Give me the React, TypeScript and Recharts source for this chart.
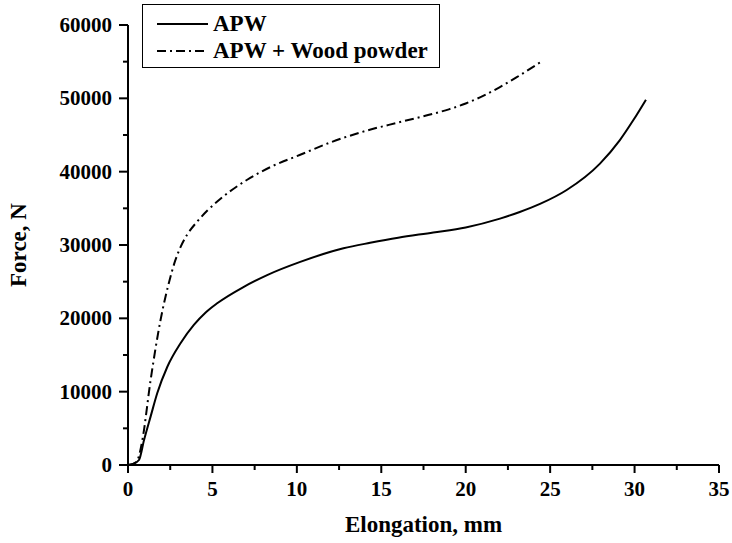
import { LineChart, Line, XAxis, YAxis, Legend, Label } from "recharts"

// APW, solid curve
const apwElong = [0, 0.3, 0.65, 0.95, 1.35, 1.73, 2.33, 3.11, 3.9, 4.6, 5.28, 6.86, 8.24, 10.2, 12.76, 14.34, 16, 18.08, 20, 22.03, 23.2, 24.4, 25.98, 27.95, 29.13, 29.92, 30.67]
const apwForce = [0, 150, 680, 3400, 6700, 9780, 13400, 16600, 19100, 20800, 22050, 24300, 25900, 27700, 29550, 30300, 31000, 31700, 32400, 33600, 34500, 35600, 37500, 41100, 44300, 47000, 49800]

// APW + Wood powder, dash-dot curve
const woodElong = [0, 0.35, 0.6, 0.85, 1.34, 1.93, 2.52, 2.8, 3.11, 3.5, 4.1, 4.7, 5.48, 7.06, 8.5, 10.2, 12, 14.14, 16, 18.08, 19, 20, 21, 22, 23, 24.4]
const woodForce = [0, 200, 900, 3400, 11600, 19800, 25700, 27900, 29700, 31400, 33200, 34700, 36300, 38900, 40700, 42300, 44000, 45600, 46700, 47900, 48500, 49300, 50300, 51500, 52850, 54900]

const xTicks = [0, 2.5, 5, 7.5, 10, 12.5, 15, 17.5, 20, 22.5, 25, 27.5, 30, 32.5, 35]
const yTicks = [0, 5000, 10000, 15000, 20000, 25000, 30000, 35000, 40000, 45000, 50000, 55000, 60000]

const apwData = apwElong.map((e, i) => ({ elong: e, force: apwForce[i] }))
const woodData = woodElong.map((e, i) => ({ elong: e, force: woodForce[i] }))

const font = "Liberation Serif"
const dashDot = "9 4 2 4"

function XTick(props: any) {
  const { x, y, payload } = props
  const major = payload.value % 5 === 0
  return (
    <g>
      <line x1={x} x2={x} y1={y} y2={y + (major ? 8 : 5)} stroke="#000" strokeWidth={2} />
      {major && (
        <text x={x} y={y + 31} textAnchor="middle" fontFamily={font} fontWeight="bold" fontSize={21} fill="#000">
          {payload.value}
        </text>
      )}
    </g>
  )
}

function YTick(props: any) {
  const { x, y, payload } = props
  const major = payload.value % 10000 === 0
  return (
    <g>
      <line x1={x} x2={x - (major ? 9 : 5)} y1={y} y2={y} stroke="#000" strokeWidth={2} />
      {major && (
        <text x={x - 16} y={y + 7} textAnchor="end" fontFamily={font} fontWeight="bold" fontSize={21} fill="#000">
          {payload.value}
        </text>
      )}
    </g>
  )
}

function LegendBox() {
  const row = (label: string, dash?: string) => (
    <div style={{ display: "flex", alignItems: "center", height: 27 }}>
      <svg width={56} height={10} style={{ marginLeft: 14 }}>
        <line x1={0} x2={51} y1={5} y2={5} stroke="#000" strokeWidth={2} strokeDasharray={dash} />
      </svg>
      <span style={{ fontFamily: font, fontWeight: "bold", fontSize: 23, lineHeight: "27px" }}>{label}</span>
    </div>
  )
  return (
    <div style={{ paddingTop: 5 }}>
      {row("APW")}
      {row("APW + Wood powder", dashDot)}
    </div>
  )
}

export default function App() {
  return (
    <div style={{ position: "absolute", left: 0, top: 0, background: "#fff" }}>
      <LineChart width={732} height={543} margin={{ top: 25, right: 13, bottom: 0, left: 0 }}>
        <XAxis
          dataKey="elong"
          type="number"
          domain={[0, 35]}
          ticks={xTicks}
          interval={0}
          tickLine={false}
          tickSize={0}
          tickMargin={0}
          tick={<XTick />}
          height={78}
          axisLine={{ stroke: "#000", strokeWidth: 2 }}
          allowDuplicatedCategory={false}
        >
          <Label
            content={({ viewBox }: any) => (
              <text
                x={viewBox.x + viewBox.width / 2}
                y={532}
                textAnchor="middle"
                fontFamily={font}
                fontWeight="bold"
                fontSize={23}
                fill="#000"
              >
                Elongation, mm
              </text>
            )}
          />
        </XAxis>
        <YAxis
          dataKey="force"
          type="number"
          domain={[0, 60000]}
          ticks={yTicks}
          interval={0}
          tickLine={false}
          tickSize={0}
          tickMargin={0}
          tick={<YTick />}
          width={128}
          axisLine={{ stroke: "#000", strokeWidth: 2 }}
        >
          <Label
            content={({ viewBox }: any) => {
              const cy = viewBox.y + viewBox.height / 2
              return (
                <text
                  x={26}
                  y={cy}
                  transform={`rotate(-90, 26, ${cy})`}
                  textAnchor="middle"
                  fontFamily={font}
                  fontWeight="bold"
                  fontSize={23}
                  fill="#000"
                >
                  Force, N
                </text>
              )
            }}
          />
        </YAxis>
        <Legend
          layout="vertical"
          align="center"
          verticalAlign="middle"
          content={<LegendBox />}
          wrapperStyle={{
            position: "absolute",
            left: 142,
            top: 4,
            width: 298,
            height: 64,
            border: "1.5px solid #000",
            boxSizing: "border-box",
            background: "#fff",
          }}
        />
        <Line
          data={apwData}
          dataKey="force"
          name="APW"
          type="monotone"
          stroke="#000"
          strokeWidth={2}
          dot={false}
          isAnimationActive={false}
        />
        <Line
          data={woodData}
          dataKey="force"
          name="APW + Wood powder"
          type="monotone"
          stroke="#000"
          strokeWidth={2}
          strokeDasharray={dashDot}
          dot={false}
          isAnimationActive={false}
        />
      </LineChart>
    </div>
  )
}
